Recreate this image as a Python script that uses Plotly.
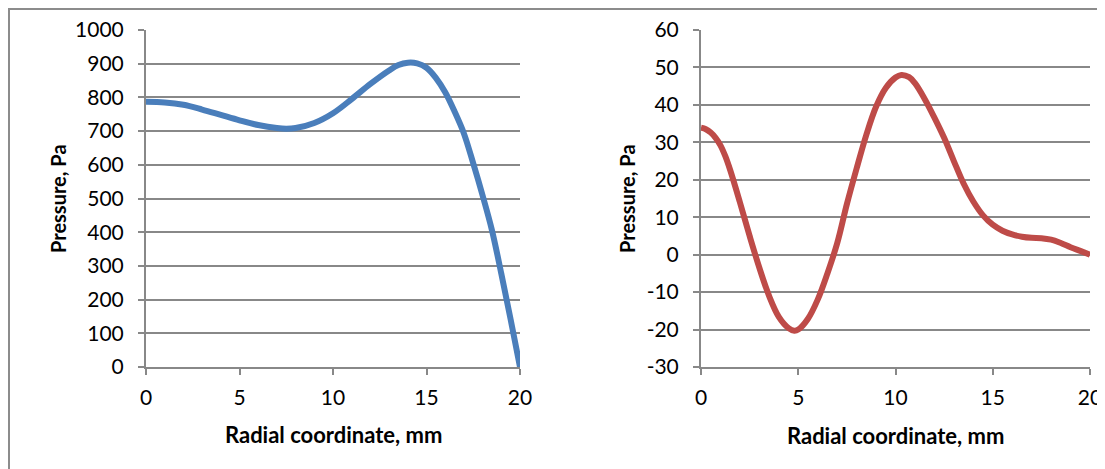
import plotly.graph_objects as go

# Left chart data (blue)
left_x = [0, 1, 2, 3, 4, 5, 6, 7, 7.5, 8, 9, 10, 11, 12, 13, 13.5, 14, 14.5, 15, 15.5, 16, 16.5,
          17, 17.5, 18, 18.5, 19, 19.5, 20]
left_y = [787, 785, 778, 764, 748, 732, 718, 709, 707, 709, 724, 753, 795, 840, 880, 896, 903, 901,
          888, 858, 815, 758, 693, 604, 509, 406, 277, 141, 0]

# Right chart data (red)
right_x = [0, 0.25, 0.5, 0.75, 1, 1.25, 1.5, 2, 2.5, 3, 3.5, 4, 4.5, 4.8, 5, 5.5, 6, 6.5, 7, 7.5, 8, 8.5,
           9, 9.5, 10, 10.3, 10.7, 11, 11.5, 12, 12.5, 13, 13.5, 14, 14.5, 15, 15.5, 16, 16.5, 17, 17.5,
           18, 18.5, 19, 19.5, 20]
right_y = [33.9, 33.5, 32.6, 31.2, 29.2, 26.3, 22.6, 14, 5, -3.5, -11, -16.6, -19.6, -20.3, -20, -17.1,
           -12, -5, 3, 13.5, 23, 32, 39.5, 44.5, 47.3, 48, 47.4, 45.8, 41.6, 36.6, 31.2, 25, 19, 14.2,
           10.5, 8, 6.4, 5.4, 4.8, 4.5, 4.4, 4.0, 3.1, 2.0, 1.0, 0]

x_ticks = [0, 5, 10, 15, 20]
left_y_ticks = list(range(0, 1001, 100))
right_y_ticks = list(range(-30, 61, 10))
right_y_labels = [str(v) for v in right_y_ticks]  # plain hyphen minus like the original
x_title = "Radial coordinate, mm"
y_title = "Pressure, Pa"

W, H = 1105, 469
OFF = 8  # page body margin
GRID = "#888888"
FONT = "Lato"


def px(v):
    return (v - OFF) / W


def py(v):
    return 1 - (v - OFF) / H


fig = go.Figure()
fig.add_trace(go.Scatter(x=left_x, y=left_y, mode="lines",
                         line=dict(color="#4a7ebb", width=6, shape="spline", smoothing=1.0),
                         xaxis="x", yaxis="y", showlegend=False, cliponaxis=False))
fig.add_trace(go.Scatter(x=right_x, y=right_y, mode="lines",
                         line=dict(color="#be4b48", width=6, shape="spline", smoothing=1.0),
                         xaxis="x2", yaxis="y2", showlegend=False, cliponaxis=False))

ydom = [py(367), py(30)]
common_x = dict(range=[0, 20], tickvals=x_ticks, showgrid=False, zeroline=False, showline=True,
                linecolor=GRID, linewidth=2, ticks="outside", ticklen=6, tickwidth=2, tickcolor=GRID,
                tickfont=dict(family=FONT, size=21, color="black"), ticklabelstandoff=5,
                fixedrange=True, automargin=False)
common_y = dict(showgrid=True, gridcolor=GRID, gridwidth=2, zeroline=False, showline=True,
                linecolor=GRID, linewidth=2, ticks="outside", ticklen=6, tickwidth=2, tickcolor=GRID,
                tickfont=dict(family=FONT, size=21, color="black"), ticklabelstandoff=10,
                fixedrange=True, automargin=False)

fig.update_layout(
    width=W, height=H, margin=dict(l=0, r=0, t=0, b=0, autoexpand=False),
    paper_bgcolor="white", plot_bgcolor="white",
    xaxis=dict(domain=[px(146), px(520)], anchor="y", **common_x),
    yaxis=dict(domain=ydom, anchor="x", range=[0, 1000], tickvals=left_y_ticks, **common_y),
    xaxis2=dict(domain=[px(701), px(1090)], anchor="y2", **common_x),
    yaxis2=dict(domain=ydom, anchor="x2", range=[-30, 60], tickvals=right_y_ticks,
                ticktext=right_y_labels, **common_y),
    shapes=[dict(type="rect", xref="paper", yref="paper", x0=px(9), x1=1.05, y0=-0.05, y1=py(9),
                 line=dict(color="#8c8c8c", width=2), layer="below")],
    annotations=[
        dict(text=f"<b>{x_title}</b>", x=px(333), y=py(434), xref="paper", yref="paper", showarrow=False,
             font=dict(family=FONT, size=22, color="black"), xanchor="center", yanchor="middle"),
        dict(text=f"<b>{x_title}</b>", x=px(895), y=py(435), xref="paper", yref="paper", showarrow=False,
             font=dict(family=FONT, size=22, color="black"), xanchor="center", yanchor="middle"),
        dict(text=f"<b>{y_title}</b>", x=px(58), y=py(199), xref="paper", yref="paper", showarrow=False,
             textangle=-90, font=dict(family=FONT, size=20, color="black"), xanchor="center", yanchor="middle"),
        dict(text=f"<b>{y_title}</b>", x=px(627), y=py(199), xref="paper", yref="paper", showarrow=False,
             textangle=-90, font=dict(family=FONT, size=20, color="black"), xanchor="center", yanchor="middle"),
    ],
)

fig.write_html("out.html", config={"displayModeBar": False})
